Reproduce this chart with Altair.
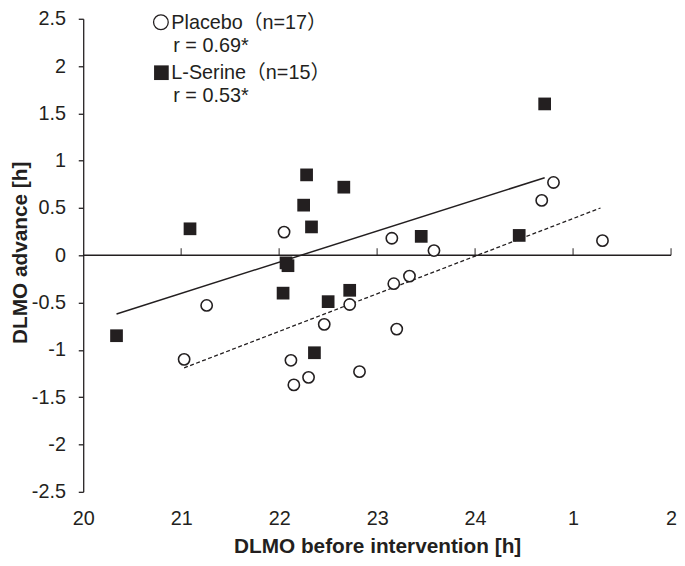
import altair as alt
import pandas as pd

# ---- data ----
placebo_x = [21.03, 21.26, 22.05, 22.12, 22.15, 22.30, 22.46, 22.72, 22.82,
             23.15, 23.17, 23.20, 23.33, 23.58, 24.68, 24.80, 25.30]
placebo_y = [-1.10, -0.53, 0.245, -1.11, -1.37, -1.29, -0.73, -0.52, -1.23,
             0.18, -0.30, -0.78, -0.22, 0.05, 0.58, 0.77, 0.155]

serine_x = [20.34, 21.09, 22.04, 22.07, 22.09, 22.25, 22.28, 22.33, 22.36,
            22.50, 22.66, 22.72, 23.45, 24.45, 24.71]
serine_y = [-0.85, 0.28, -0.40, -0.08, -0.11, 0.53, 0.85, 0.30, -1.03,
            -0.49, 0.72, -0.37, 0.20, 0.21, 1.60]

serine_fit_x = [20.34, 24.71]
serine_fit_y = [-0.62, 0.82]
placebo_fit_x = [21.03, 25.28]
placebo_fit_y = [-1.19, 0.50]

x_ticks = [20, 21, 22, 23, 24, 25, 26]
x_tick_labels = ["20", "21", "22", "23", "24", "1", "2"]
y_ticks = [-2.5, -2, -1.5, -1, -0.5, 0, 0.5, 1, 1.5, 2, 2.5]
inner_ticks = [21, 22, 23, 24, 25, 26]

legend_lines = ["Placebo（n=17）", "r = 0.69*", "L-Serine（n=15）", "r = 0.53*"]

x_title = "DLMO before intervention [h]"
y_title = "DLMO advance [h]"

# ---- styling ----
INK = "#231f20"
FONT = "Liberation Sans, Arial, Noto Sans CJK JP"

label_expr = "".join(
    f"datum.value == {v} ? '{t}' : " for v, t in zip(x_ticks, x_tick_labels)
) + "''"

xs = alt.Scale(domain=[20, 26], nice=False, zero=False)
ys = alt.Scale(domain=[-2.5, 2.5], nice=False, zero=False)

xaxis = alt.Axis(values=x_ticks, labelExpr=label_expr, domain=False, ticks=False,
                 grid=False, labelPadding=17, labelFlush=False, labelOverlap=False,
                 title=x_title, titleY=61, titleBaseline="alphabetic")
yaxis = alt.Axis(values=y_ticks, labelExpr="'' + datum.value", tickSize=5,
                 labelPadding=13, grid=False, labelFlush=False, labelOverlap=False,
                 domainWidth=1.3, tickWidth=1.3,
                 title=y_title, titleX=-57, titleY=236, titleAngle=270,
                 titleBaseline="alphabetic", titleAlign="center")

X = alt.X("x:Q", scale=xs, axis=xaxis)
Y = alt.Y("y:Q", scale=ys, axis=yaxis)

zero_df = pd.DataFrame({"x": [x_ticks[0]], "x2": [x_ticks[-1]], "y": [0]})
zero_line = alt.Chart(zero_df).mark_rule(color=INK, strokeWidth=1.4).encode(
    x=X, x2="x2:Q", y=Y)

tick_df = pd.DataFrame({"x": inner_ticks, "y": [0] * len(inner_ticks)})
ticks = alt.Chart(tick_df).mark_tick(color=INK, orient="vertical", size=7,
                                     thickness=1.4, yOffset=-3.5).encode(x=X, y=Y)

sfit = alt.Chart(pd.DataFrame({"x": serine_fit_x, "y": serine_fit_y})).mark_line(
    color=INK, strokeWidth=1.5).encode(x=X, y=Y)
pfit = alt.Chart(pd.DataFrame({"x": placebo_fit_x, "y": placebo_fit_y})).mark_line(
    color=INK, strokeWidth=1.3, strokeDash=[4, 2.5]).encode(x=X, y=Y)

placebo = alt.Chart(pd.DataFrame({"x": placebo_x, "y": placebo_y})).mark_point(
    shape="circle", filled=True, fill="white", stroke=INK, strokeWidth=1.6,
    size=130, opacity=1).encode(x=X, y=Y)
serine = alt.Chart(pd.DataFrame({"x": serine_x, "y": serine_y})).mark_point(
    shape="square", filled=True, fill=INK, size=165, opacity=1).encode(x=X, y=Y)

dummy = pd.DataFrame({"d": [0]})
leg_circle = alt.Chart(dummy).mark_point(
    shape="circle", filled=True, fill="white", stroke=INK, strokeWidth=1.3,
    size=220, opacity=1).encode(x=alt.value(78.5), y=alt.value(3.5))
leg_square = alt.Chart(dummy).mark_point(
    shape="square", filled=True, fill=INK, size=220, opacity=1).encode(
    x=alt.value(79), y=alt.value(54.5))

text_pos = [(89, 10.7), (91, 34), (89, 61.3), (91, 84)]
texts = []
for line, (tx, ty) in zip(legend_lines, text_pos):
    texts.append(alt.Chart(pd.DataFrame({"t": [line]})).mark_text(
        align="left", baseline="alphabetic", font=FONT, fontSize=20, color=INK
    ).encode(x=alt.value(tx), y=alt.value(ty), text="t:N"))

chart = alt.layer(zero_line, ticks, sfit, pfit, placebo, serine,
                  leg_circle, leg_square, *texts).properties(
    width=594, height=478,
    autosize=alt.AutoSizeParams(type="none"),
    padding={"left": 76, "top": 8, "right": 6, "bottom": 65},
).configure_axis(
    labelFont=FONT, labelFontSize=20, labelColor=INK,
    titleFont=FONT, titleFontSize=21, titleFontWeight="bold", titleColor=INK,
    domainColor=INK, tickColor=INK,
).configure_view(stroke=None)

chart.save("out.html", embed_options={"renderer": "svg", "actions": False})
